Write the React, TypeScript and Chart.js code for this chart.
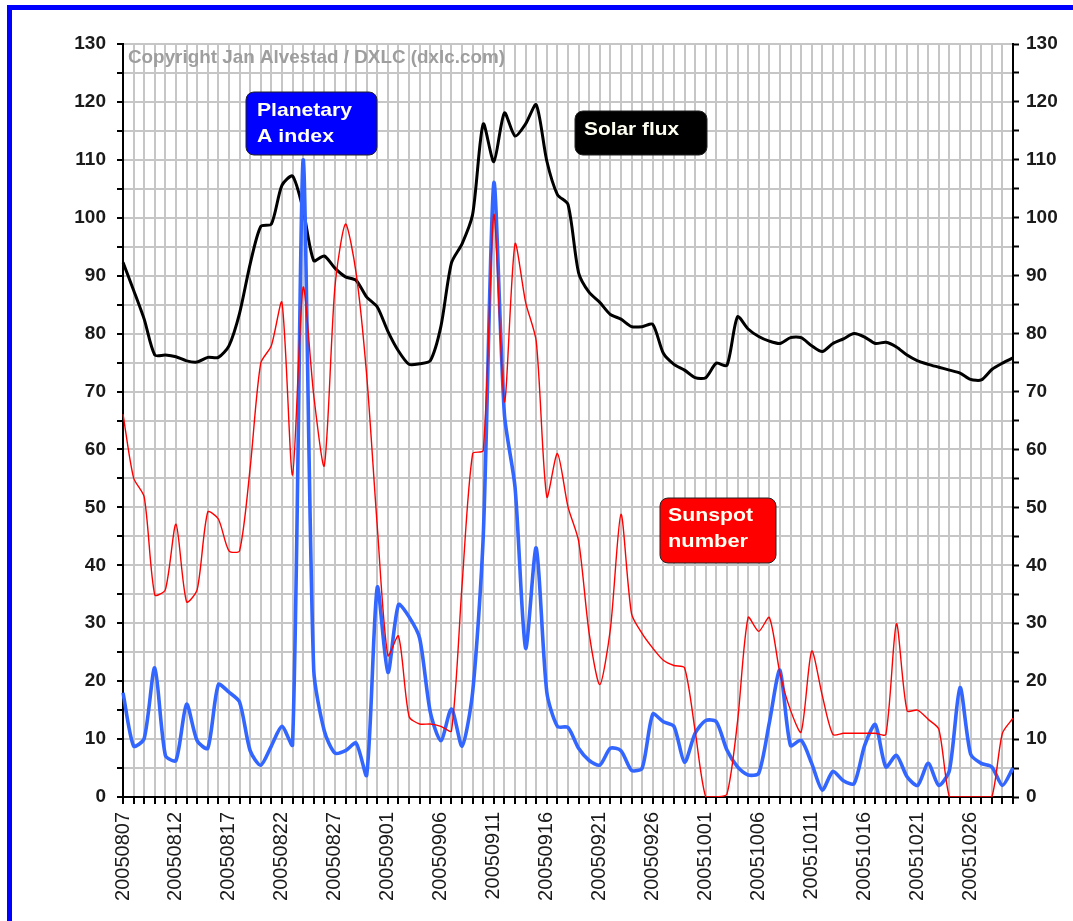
import React, { useEffect, useRef } from 'react';
import { Chart, registerables } from 'chart.js';

Chart.register(...registerables);

const dates = [
  '20050807', '20050808', '20050809', '20050810', '20050811', '20050812', '20050813', '20050814', '20050815', '20050816',
  '20050817', '20050818', '20050819', '20050820', '20050821', '20050822', '20050823', '20050824', '20050825', '20050826',
  '20050827', '20050828', '20050829', '20050830', '20050831',
  '20050901', '20050902', '20050903', '20050904', '20050905', '20050906', '20050907', '20050908', '20050909', '20050910',
  '20050911', '20050912', '20050913', '20050914', '20050915', '20050916', '20050917', '20050918', '20050919', '20050920',
  '20050921', '20050922', '20050923', '20050924', '20050925', '20050926', '20050927', '20050928', '20050929', '20050930',
  '20051001', '20051002', '20051003', '20051004', '20051005', '20051006', '20051007', '20051008', '20051009', '20051010',
  '20051011', '20051012', '20051013', '20051014', '20051015', '20051016', '20051017', '20051018', '20051019', '20051020',
  '20051021', '20051022', '20051023', '20051024', '20051025', '20051026', '20051027', '20051028', '20051029', '20051030',
];

const solarFlux = [
  92.3, 87.5, 82.5, 76.3, 76.3, 76.0, 75.3, 75.1, 75.9, 75.9,
  77.9, 83.5, 92.0, 98.5, 98.9, 105.6, 107.2, 101.4, 92.6, 93.4,
  91.3, 89.8, 89.2, 86.3, 84.6,
  80.4, 77.0, 74.7, 74.8, 75.3, 81.2, 92.2, 95.5, 100.6, 116.2,
  109.7, 118.1, 114.1, 116.2, 119.5, 109.8, 104.0, 102.3, 90.5, 87.1,
  85.4, 83.3, 82.5, 81.2, 81.2, 81.6, 76.6, 74.7, 73.7, 72.4,
  72.4, 74.9, 74.5, 82.9, 80.8, 79.5, 78.7, 78.3, 79.3, 79.3,
  77.9, 76.9, 78.3, 79.1, 80.0, 79.4, 78.3, 78.5, 77.7, 76.3,
  75.3, 74.7, 74.2, 73.7, 73.2, 72.1, 72.0, 73.8, 74.9, 75.8,
];

const aIndex = [
  18, 8.8, 10.1, 22.3, 7.2, 6.3, 16, 9.7, 8.4, 19.4,
  18.1, 16.4, 8, 5.5, 8.8, 12.2, 9, 110, 22, 11.4,
  7.6, 8, 9.3, 3.8, 36.2,
  21.5, 33.2, 31.1, 27.4, 14.7, 9.7, 15.2, 8.8, 18.1, 45,
  106, 66, 53.5, 25.7, 43, 18.1, 12.2, 12, 8.4, 6.3,
  5.5, 8.4, 8, 4.6, 5, 14.3, 13, 12.2, 6, 11,
  13.2, 13, 8.1, 5.2, 3.8, 4.1, 12.8, 21.9, 8.9, 9.8,
  5.8, 1.2, 4.4, 2.8, 2.3, 8.9, 12.5, 5.2, 7.2, 3.5,
  2, 5.8, 2, 4.6, 18.9, 7.4, 5.8, 5.2, 2, 5,
];

const sunspots = [
  66.1, 55.1, 51.8, 34.9, 35.8, 47.1, 33.7, 35.8, 49.2, 48,
  42.5, 42.5, 56.8, 74.9, 77.9, 85.4, 55.6, 88, 69.4, 57.2,
  88, 98.9, 90.5, 72.8, 46.7,
  24.4, 27.8, 13.9, 12.6, 12.6, 12.2, 11.4, 36.6, 59.3, 59.8,
  100.6, 68.2, 95.5, 85.4, 78.7, 51.8, 59.3, 50.1, 44.2, 28.2,
  19.4, 29, 48.8, 31.6, 28.2, 25.7, 23.6, 22.7, 22.3, 11.4,
  0, 0, 0.5, 13, 31, 28.6, 31, 21.4, 15, 11.2,
  25.2, 17.5, 10.8, 11, 11, 11, 11, 10.8, 29.9, 14.9,
  15, 13.4, 11.7, 0, 0, 0, 0, 0, 11, 13.6,
];

const yMin = 0;
const yMax = 130;
const yStep = 5;

const FONT = "'Liberation Sans', Arial, sans-serif";

function fitText(ctx: CanvasRenderingContext2D, text: string, x: number, yMid: number, width: number, font: string, color: string) {
  ctx.save();
  ctx.font = font;
  ctx.fillStyle = color;
  ctx.textBaseline = 'middle';
  ctx.textAlign = 'left';
  const w = ctx.measureText(text).width;
  const sx = width / w;
  ctx.translate(x, yMid);
  ctx.scale(sx, 1);
  ctx.fillText(text, 0, 0);
  ctx.restore();
}

function box(ctx: CanvasRenderingContext2D, x: number, y: number, w: number, h: number, fill: string) {
  ctx.save();
  ctx.beginPath();
  (ctx as any).roundRect(x, y, w, h, 8);
  ctx.fillStyle = fill;
  ctx.fill();
  ctx.lineWidth = 1;
  ctx.strokeStyle = '#222';
  ctx.stroke();
  ctx.restore();
}

const decorPlugin = {
  id: 'decor',
  beforeDatasetsDraw(chart: any) {
    const ctx = chart.ctx as CanvasRenderingContext2D;
    fitText(ctx, 'Copyright Jan Alvestad / DXLC (dxlc.com)', 128, 58, 377, `bold 19px ${FONT}`, '#9e9e9e');
  },
  afterDatasetsDraw(chart: any) {
    const ctx = chart.ctx as CanvasRenderingContext2D;
    const tf = `bold 19px ${FONT}`;
    const tc = '#fffff2';
    box(ctx, 246, 92, 131, 63, '#0000ff');
    fitText(ctx, 'Planetary', 257, 111, 95, tf, tc);
    fitText(ctx, 'A index', 257, 137, 77, tf, tc);
    box(ctx, 575, 111, 132, 44, '#000000');
    fitText(ctx, 'Solar flux', 584, 130, 95, tf, tc);
    box(ctx, 660, 498, 116, 65, '#ff0000');
    fitText(ctx, 'Sunspot', 668, 516, 85, tf, tc);
    fitText(ctx, 'number', 668, 542, 80, tf, tc);
  },
};

const GRID = '#c6c6c6';
const TENSION = 0.25;

export default function App() {
  const ref = useRef<HTMLCanvasElement | null>(null);

  useEffect(() => {
    if (!ref.current) return;
    const yTickCb = (v: any) => (Number(v) % 10 === 0 ? String(v) : '');
    const chart = new Chart(ref.current, {
      type: 'line',
      data: {
        labels: dates,
        datasets: [
          {
            label: 'Sunspot number',
            data: sunspots,
            borderColor: '#ff0000',
            borderWidth: 1.4,
            pointRadius: 0,
            tension: TENSION,
            fill: false,
            yAxisID: 'y',
          },
          {
            label: 'Planetary A index',
            data: aIndex,
            borderColor: '#3366ff',
            borderWidth: 3.6,
            pointRadius: 0,
            tension: TENSION,
            fill: false,
            yAxisID: 'y',
          },
          {
            label: 'Solar flux',
            data: solarFlux,
            borderColor: '#000000',
            borderWidth: 3,
            pointRadius: 0,
            tension: TENSION,
            fill: false,
            yAxisID: 'y',
          },
        ],
      },
      options: {
        responsive: false,
        animation: false,
        layout: { padding: { top: 44, left: 0, right: 0, bottom: 0 } },
        plugins: {
          legend: { display: false },
          tooltip: { enabled: false },
        },
        scales: {
          x: {
            type: 'category',
            offset: false,
            grid: {
              color: (c: any) => (c.index === 0 || c.index === dates.length - 1 ? 'rgba(0,0,0,0)' : GRID),
              lineWidth: 2,
              tickColor: '#000',
              tickWidth: 2,
              tickLength: 7,
            },
            border: { color: '#000', width: 2 },
            ticks: {
              autoSkip: false,
              maxRotation: 90,
              minRotation: 90,
              padding: 8,
              color: '#1a1a1a',
              font: { family: FONT, size: 20 },
              callback: (_v: any, i: number) => (i % 5 === 0 ? dates[i] : ''),
            },
            afterFit: (s: any) => {
              s.height = 124;
            },
          },
          y: {
            position: 'left',
            min: yMin,
            max: yMax,
            grid: {
              color: (c: any) => (c.tick && c.tick.value === 0 ? 'rgba(0,0,0,0)' : GRID),
              lineWidth: 2,
              tickColor: '#000',
              tickWidth: 2,
              tickLength: 6,
            },
            border: { color: '#000', width: 2 },
            ticks: {
              stepSize: yStep,
              autoSkip: false,
              padding: 11,
              color: '#1a1a1a',
              font: { family: FONT, size: 19, weight: 'bold' },
              callback: yTickCb,
            },
            afterFit: (s: any) => {
              s.width = 123;
            },
          },
          y2: {
            position: 'right',
            min: yMin,
            max: yMax,
            grid: {
              drawOnChartArea: false,
              tickColor: '#000',
              tickWidth: 2,
              tickLength: 6,
            },
            border: { color: '#000', width: 2 },
            ticks: {
              stepSize: yStep,
              autoSkip: false,
              padding: 7,
              color: '#1a1a1a',
              font: { family: FONT, size: 19, weight: 'bold' },
              callback: yTickCb,
            },
            afterFit: (s: any) => {
              s.width = 60;
            },
          },
        },
      } as any,
      plugins: [decorPlugin],
    });
    return () => chart.destroy();
  }, []);

  return (
    <div style={{ position: 'absolute', left: 0, top: 0, width: 1073, height: 921, overflow: 'hidden', background: '#fff' }}>
      <div
        style={{
          position: 'absolute',
          left: 7,
          top: 5,
          width: 1200,
          height: 1100,
          border: '5px solid #0000ff',
          boxSizing: 'border-box',
        }}
      />
      <canvas ref={ref} width={1073} height={921} style={{ position: 'absolute', left: 0, top: 0, display: 'block' }} />
    </div>
  );
}
